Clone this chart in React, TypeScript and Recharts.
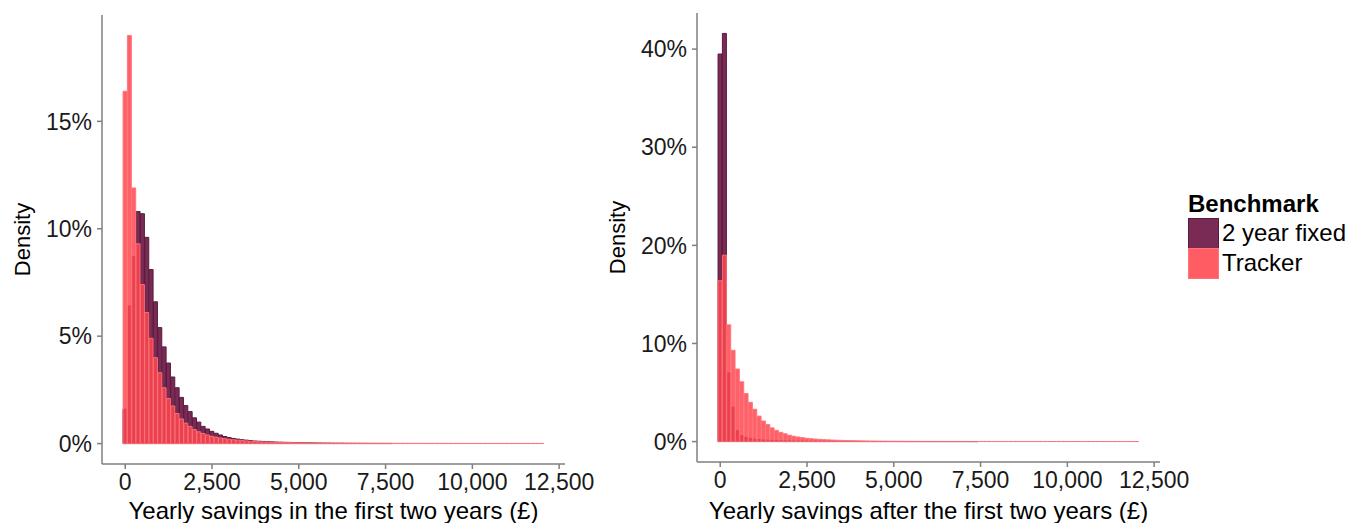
import React from 'react'
import { ComposedChart, Bar, XAxis, YAxis } from 'recharts'

// histogram bins (centre of each £125 bin)
const BINS = [
  0, 125, 250, 375, 500, 625, 750, 875, 1000, 1125, 1250, 1375,
  1500, 1625, 1750, 1875, 2000, 2125, 2250, 2375, 2500, 2625, 2750, 2875,
  3000, 3125, 3250, 3375, 3500, 3625, 3750, 3875, 4000, 4125, 4250, 4375,
  4500, 4625, 4750, 4875, 5000, 5125, 5250, 5375, 5500, 5625, 5750, 5875,
  6000, 6125, 6250, 6375, 6500, 6625, 6750, 6875, 7000, 7125, 7250, 7375,
  7500, 7625, 7750, 7875, 8000, 8125, 8250, 8375, 8500, 8625, 8750, 8875,
  9000, 9125, 9250, 9375, 9500, 9625, 9750, 9875, 10000, 10125, 10250, 10375,
  10500, 10625, 10750, 10875, 11000, 11125, 11250, 11375, 11500, 11625, 11750, 11875,
  12000,
]

// % of mortgages per bin, 2 year fixed benchmark, first two years
const FIXED_FIRST = [
  1.6, 6.4, 8.7, 10.8, 10.7, 9.6, 8.1, 6.6, 5.4, 4.5, 3.75, 3.1,
  2.6, 2.15, 1.77, 1.49, 1.2, 1.0, 0.8, 0.68, 0.57, 0.48, 0.4, 0.33,
  0.28, 0.24, 0.21, 0.18, 0.16, 0.14, 0.12, 0.11, 0.1, 0.09, 0.08, 0.07,
  0.065, 0.06, 0.055, 0.05, 0.045, 0.04, 0.037, 0.034, 0.031, 0.028, 0.025, 0.023,
  0.021, 0.019, 0.017, 0.015, 0.014, 0.013, 0.012, 0.011, 0.01, 0.009, 0.008, 0.008,
  0.007, 0.007, 0, 0, 0, 0, 0, 0, 0, 0, 0, 0,
  0, 0, 0, 0, 0, 0, 0, 0, 0, 0, 0, 0,
  0, 0, 0, 0, 0, 0, 0, 0, 0, 0, 0, 0,
  0,
]

// 2 year fixed benchmark, after the first two years
const FIXED_AFTER = [
  39.5, 41.6, 7.0, 3.5, 1.1, 0.6, 0.42, 0.32, 0.25, 0.2, 0.17, 0.14,
  0.12, 0.1, 0.09, 0.08, 0.07, 0.06, 0.055, 0.05, 0.045, 0.04, 0.036, 0.033,
  0.03, 0.027, 0.025, 0.023, 0.021, 0.019, 0.017, 0.016, 0.015, 0.014, 0.013, 0.012,
  0.011, 0.01, 0.009, 0.008, 0.008, 0.007, 0.007, 0.006, 0.006, 0.005, 0.005, 0.004,
  0.004, 0.004, 0.003, 0.003, 0.003, 0.002, 0.002, 0.002, 0.002, 0.001, 0.001, 0.001,
  0, 0, 0, 0, 0, 0, 0, 0, 0, 0, 0, 0,
  0, 0, 0, 0, 0, 0, 0, 0, 0, 0, 0, 0,
  0, 0, 0, 0, 0, 0, 0, 0, 0, 0, 0, 0,
  0,
]

// tracker benchmark (same shape in both panels)
const TRACKER = [
  16.4, 19.0, 11.9, 9.3, 7.4, 6.1, 4.9, 4.0, 3.3, 2.6, 2.1, 1.75,
  1.4, 1.15, 0.95, 0.8, 0.65, 0.55, 0.47, 0.4, 0.34, 0.3, 0.26, 0.23,
  0.2, 0.18, 0.16, 0.14, 0.125, 0.11, 0.1, 0.09, 0.08, 0.072, 0.065, 0.06,
  0.055, 0.05, 0.046, 0.042, 0.039, 0.036, 0.033, 0.031, 0.029, 0.027, 0.025, 0.024,
  0.023, 0.022, 0.021, 0.02, 0.019, 0.018, 0.018, 0.017, 0.017, 0.016, 0.016, 0.015,
  0.015, 0.015, 0.014, 0.014, 0.014, 0.013, 0.013, 0.013, 0.013, 0.012, 0.012, 0.012,
  0.012, 0.012, 0.011, 0.011, 0.011, 0.011, 0.011, 0.011, 0.01, 0.01, 0.01, 0.01,
  0.01, 0.01, 0.01, 0.01, 0.01, 0.01, 0.01, 0.01, 0.01, 0.01, 0.01, 0.01,
  0.01,
]

const X_TICKS = [0, 2500, 5000, 7500, 10000, 12500]
const Y_TICKS_FIRST = [0, 5, 10, 15]
const Y_TICKS_AFTER = [0, 10, 20, 30, 40]

const X_DOMAIN: [number, number] = [-669, 12669]
const FONT = '"Liberation Sans", Arial, Helvetica, sans-serif'
const AXIS_GREY = '#7f7f7f'
const DARK = '#7a2b55'
const RED = '#ff454d'

const firstData = BINS.map((bin, i) => ({ bin, fixed: FIXED_FIRST[i], tracker: TRACKER[i] }))
const afterData = BINS.map((bin, i) => ({ bin, fixed: FIXED_AFTER[i], tracker: TRACKER[i] }))

function DensityLabel(props: any) {
  const vb = props.viewBox || {}
  const x = vb.x + 22
  const y = vb.y + vb.height / 2
  return (
    <text
      x={x}
      y={y}
      transform={`rotate(-90 ${x} ${y})`}
      textAnchor="middle"
      dominantBaseline="central"
      fontSize={22}
      fill="#000"
    >
      Density
    </text>
  )
}

interface PanelProps {
  data: { bin: number; fixed: number; tracker: number }[]
  yDomain: [number, number]
  yTicks: number[]
  title: string
  left: number
  top: number
  xHeight: number
}

function Panel({ data, yDomain, yTicks, title, left, top, xHeight }: PanelProps) {
  return (
    <div style={{ position: 'absolute', left, top: 0 }}>
      <ComposedChart
        width={615}
        height={523}
        data={data}
        margin={{ top, right: 50, bottom: 0, left: 0 }}
        barCategoryGap={0}
        barGap={0}
      >
        <XAxis
          xAxisId="fixed"
          dataKey="bin"
          type="number"
          domain={X_DOMAIN}
          allowDataOverflow
          hide
          height={0}
        />
        <XAxis
          xAxisId="tracker"
          dataKey="bin"
          type="number"
          domain={X_DOMAIN}
          allowDataOverflow
          ticks={X_TICKS}
          interval={0}
          height={xHeight}
          tickSize={5}
          tickMargin={5}
          tickFormatter={(v: number) => v.toLocaleString('en-US')}
          tick={{ fill: '#1a1a1a', fontSize: 23 }}
          axisLine={{ stroke: AXIS_GREY, strokeWidth: 1.5 }}
          tickLine={{ stroke: AXIS_GREY, strokeWidth: 1.5 }}
          label={{ value: title, position: 'insideBottom', offset: 4, fill: '#000', fontSize: 24 }}
        />
        <YAxis
          type="number"
          domain={yDomain}
          allowDataOverflow
          ticks={yTicks}
          interval={0}
          width={102}
          tickSize={5}
          tickMargin={5}
          tickFormatter={(v: number) => `${v}%`}
          tick={{ fill: '#1a1a1a', fontSize: 23 }}
          axisLine={{ stroke: AXIS_GREY, strokeWidth: 1.5 }}
          tickLine={{ stroke: AXIS_GREY, strokeWidth: 1.5 }}
          label={{ content: DensityLabel }}
        />
        <Bar
          xAxisId="fixed"
          dataKey="fixed"
          fill={DARK}
          stroke="#5a1a3d"
          strokeWidth={1}
          isAnimationActive={false}
        />
        <Bar
          xAxisId="tracker"
          dataKey="tracker"
          fill={RED}
          fillOpacity={0.85}
          stroke="#ff737a"
          strokeOpacity={0.9}
          strokeWidth={1}
          isAnimationActive={false}
        />
      </ComposedChart>
    </div>
  )
}

export default function App() {
  return (
    <div
      style={{
        position: 'absolute',
        left: 0,
        top: 0,
        width: 1351,
        height: 523,
        background: '#fff',
        fontFamily: FONT,
        overflow: 'hidden',
      }}
    >
      <Panel
        data={firstData}
        yDomain={[-0.95, 19.95]}
        yTicks={Y_TICKS_FIRST}
        title="Yearly savings in the first two years (£)"
        left={0}
        top={15}
        xHeight={59}
      />
      <Panel
        data={afterData}
        yDomain={[-2.08, 43.68]}
        yTicks={Y_TICKS_AFTER}
        title="Yearly savings after the first two years (£)"
        left={595}
        top={13}
        xHeight={61}
      />
      <div style={{ position: 'absolute', left: 1188, top: 189, color: '#000' }}>
        <div style={{ fontWeight: 'bold', fontSize: 24, lineHeight: '29px' }}>Benchmark</div>
        <div style={{ display: 'flex', alignItems: 'center', height: 30 }}>
          <div style={{ width: 29, height: 29, background: DARK, border: '1px solid #5a1a3d' }} />
          <span style={{ fontSize: 24, marginLeft: 3 }}>2 year fixed</span>
        </div>
        <div style={{ display: 'flex', alignItems: 'center', height: 30 }}>
          <div style={{ width: 29, height: 29, background: '#ff5c64', border: '1px solid #ff737a' }} />
          <span style={{ fontSize: 24, marginLeft: 3 }}>Tracker</span>
        </div>
      </div>
    </div>
  )
}
